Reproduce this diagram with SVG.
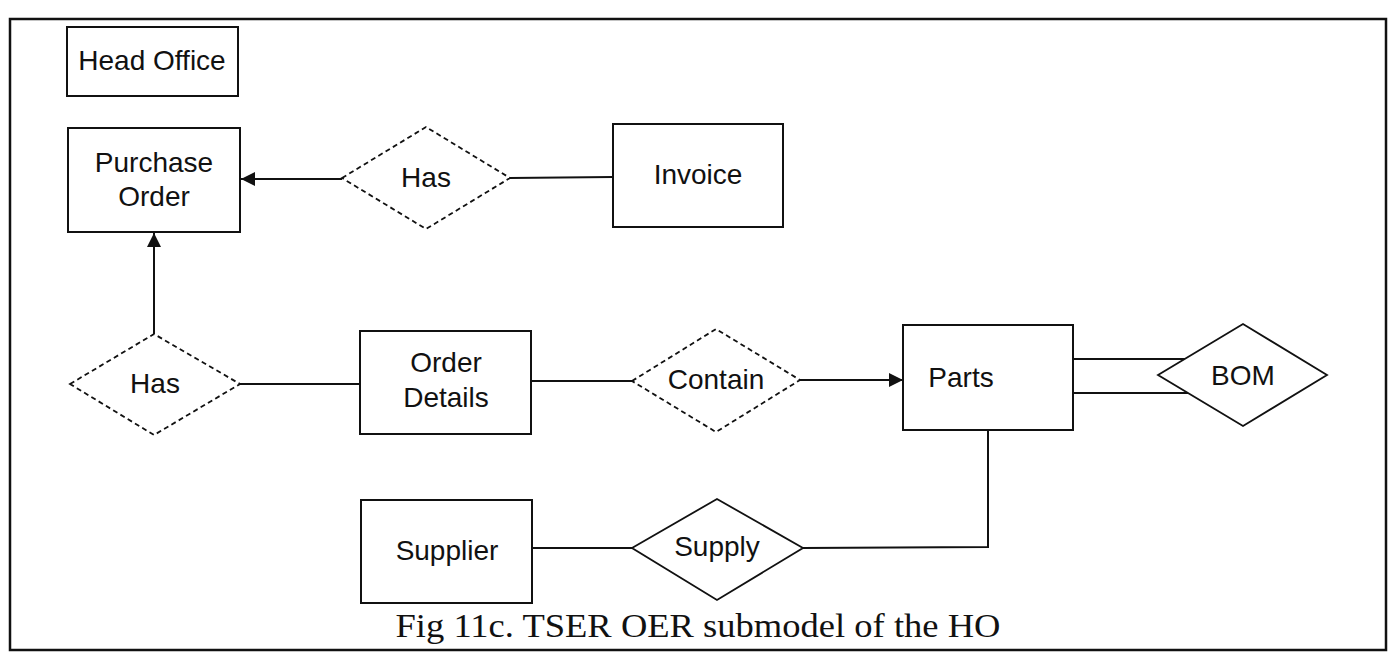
<svg xmlns="http://www.w3.org/2000/svg" width="1392" height="655" viewBox="0 0 1392 655">
<style>
.box{fill:#fff;stroke:#111;stroke-width:2}
.rel{fill:#fff;stroke:#111;stroke-width:1.8}
.dash{stroke-dasharray:5,3.5}
.lbl{font-family:"Liberation Sans",Arial,sans-serif;font-size:28px;fill:#111;text-anchor:middle}
.cap{font-family:"Liberation Serif","Times New Roman",serif;font-size:34px;fill:#111;text-anchor:middle}
.ln{fill:none;stroke:#111;stroke-width:2}
</style>
<defs>
<marker id="arr" markerWidth="16" markerHeight="16" refX="14" refY="7.5" orient="auto" markerUnits="userSpaceOnUse">
<path d="M0,0.5 L14,7.5 L0,14.5 Z" fill="#111"/>
</marker>
</defs>
<rect x="0" y="0" width="1392" height="655" fill="#fff"/>
<rect id="frame" x="10" y="19" width="1376" height="631" fill="none" stroke="#111" stroke-width="2.5"/>
<g id="connectors">
<line class="ln" x1="342" y1="179" x2="241" y2="179" marker-end="url(#arr)"/>
<line class="ln" x1="510" y1="178" x2="613" y2="177"/>
<line class="ln" x1="154" y1="334" x2="154" y2="233" marker-end="url(#arr)"/>
<line class="ln" x1="240" y1="384" x2="360" y2="384"/>
<line class="ln" x1="531" y1="381" x2="632" y2="381"/>
<line class="ln" x1="800" y1="380" x2="903" y2="380" marker-end="url(#arr)"/>
<line class="ln" x1="1073" y1="359" x2="1191" y2="359"/>
<line class="ln" x1="1073" y1="393" x2="1191" y2="393"/>
<polyline class="ln" points="988,430 988,547 803,548"/>
<line class="ln" x1="532" y1="548" x2="632" y2="548"/>
</g>
<g id="head-office">
<rect class="box" x="67" y="27" width="171" height="69"/>
<text class="lbl" x="152" y="70">Head Office</text>
</g>
<g id="purchase-order">
<rect class="box" x="68" y="128" width="172" height="104"/>
<text class="lbl" x="154" y="172">Purchase</text>
<text class="lbl" x="154" y="206">Order</text>
</g>
<g id="has1">
<polygon class="rel dash" points="342,178 426,127 510,178 426,229"/>
<text class="lbl" x="426" y="187">Has</text>
</g>
<g id="invoice">
<rect class="box" x="613" y="124" width="170" height="103"/>
<text class="lbl" x="698" y="184">Invoice</text>
</g>
<g id="has2">
<polygon class="rel dash" points="70,384 154,334 240,384 154,435"/>
<text class="lbl" x="155" y="393">Has</text>
</g>
<g id="order-details">
<rect class="box" x="360" y="331" width="171" height="103"/>
<text class="lbl" x="446" y="372">Order</text>
<text class="lbl" x="446" y="407">Details</text>
</g>
<g id="contain">
<polygon class="rel dash" points="632,381 716,329 800,380 716,432"/>
<text class="lbl" x="716" y="389">Contain</text>
</g>
<g id="parts">
<rect class="box" x="903" y="325" width="170" height="105"/>
<text class="lbl" x="961" y="387">Parts</text>
</g>
<g id="bom">
<polygon class="rel" points="1158,375 1243,324 1327,375 1243,426"/>
<text class="lbl" x="1243" y="385">BOM</text>
</g>
<g id="supplier">
<rect class="box" x="361" y="500" width="171" height="103"/>
<text class="lbl" x="447" y="560">Supplier</text>
</g>
<g id="supply">
<polygon class="rel" points="632,548 717,499 803,548 717,600"/>
<text class="lbl" x="717" y="556">Supply</text>
</g>
<text class="cap" x="698" y="637" textLength="605" lengthAdjust="spacingAndGlyphs">Fig 11c. TSER OER submodel of the HO</text>
</svg>
